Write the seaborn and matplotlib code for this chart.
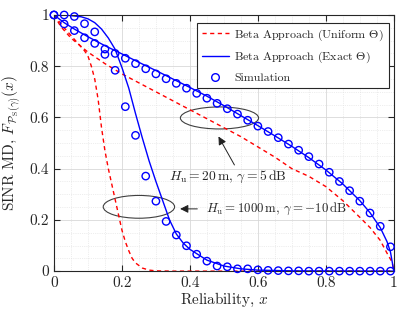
import matplotlib
matplotlib.use("Agg")
import matplotlib.pyplot as plt
import seaborn as sns
import pandas as pd
from matplotlib.patches import Ellipse
from matplotlib.lines import Line2D
from matplotlib.ticker import MultipleLocator

# simulation points (both scenarios share the same x grid)
x_sim = [0.00, 0.03, 0.06, 0.09, 0.12, 0.15, 0.18, 0.21, 0.24, 0.27, 0.30, 0.33,
         0.36, 0.39, 0.42, 0.45, 0.48, 0.51, 0.54, 0.57, 0.60, 0.63, 0.66, 0.69,
         0.72, 0.75, 0.78, 0.81, 0.84, 0.87, 0.90, 0.93, 0.96, 0.99]
sim_20 = [1.0, 0.965, 0.939, 0.911, 0.889, 0.867, 0.85, 0.831, 0.81, 0.79, 0.77, 0.751,
          0.733, 0.714, 0.694, 0.675, 0.655, 0.634, 0.613, 0.589, 0.566, 0.545, 0.521, 0.496,
          0.472, 0.447, 0.418, 0.386, 0.35, 0.314, 0.273, 0.227, 0.175, 0.095]
sim_1000 = [1.0, 1.0, 0.994, 0.966, 0.934, 0.846, 0.784, 0.642, 0.53, 0.371, 0.273, 0.194,
            0.141, 0.099, 0.066, 0.039, 0.02, 0.017, 0.009, 0.009, 0.005, 0.003, 0.002, 0.001,
            0.001, 0.0, 0.0, 0.0, 0.0, 0.0, 0.0, 0.0, 0.0, 0.0]

# Beta approach, exact Theta
x_ex20 = [0, 0.03, 0.06, 0.1, 0.15, 0.2, 0.25, 0.3, 0.35, 0.4, 0.45, 0.5, 0.55, 0.6,
          0.65, 0.7, 0.75, 0.8, 0.85, 0.9, 0.93, 0.96, 0.98, 0.99, 1.0]
y_ex20 = [1, 0.97, 0.945, 0.915, 0.88, 0.848, 0.815, 0.783, 0.75, 0.717, 0.683, 0.646,
          0.607, 0.568, 0.528, 0.487, 0.443, 0.395, 0.34, 0.275, 0.228, 0.17, 0.115, 0.075, 0.0]
x_ex1000 = [0, 0.04, 0.08, 0.1, 0.12, 0.14, 0.16, 0.18, 0.2, 0.22, 0.24, 0.26, 0.28, 0.3,
            0.32, 0.34, 0.36, 0.38, 0.4, 0.45, 0.5, 0.55, 0.6, 0.7, 1.0]
y_ex1000 = [1, 0.999, 0.993, 0.985, 0.97, 0.945, 0.91, 0.866, 0.795, 0.715, 0.615, 0.52,
            0.43, 0.35, 0.275, 0.2, 0.145, 0.11, 0.085, 0.043, 0.02, 0.009, 0.004, 0.001, 0.0]

# Beta approach, uniform Theta
x_un20 = [0, 0.02, 0.05, 0.1, 0.15, 0.2, 0.25, 0.3, 0.35, 0.4, 0.45, 0.5, 0.55, 0.6,
          0.65, 0.7, 0.75, 0.8, 0.85, 0.9, 0.93, 0.96, 0.98, 0.995, 1.0]
y_un20 = [1, 0.955, 0.91, 0.855, 0.81, 0.77, 0.735, 0.70, 0.665, 0.63, 0.595, 0.56,
          0.525, 0.485, 0.445, 0.40, 0.37, 0.33, 0.275, 0.21, 0.17, 0.12, 0.07, 0.035, 0.0]
x_un1000 = [0, 0.03, 0.06, 0.09, 0.1, 0.11, 0.12, 0.13, 0.14, 0.15, 0.16, 0.17, 0.18,
            0.19, 0.2, 0.21, 0.22, 0.23, 0.24, 0.26, 0.28, 0.3, 0.35, 1.0]
y_un1000 = [1, 0.95, 0.905, 0.86, 0.84, 0.8, 0.75, 0.67, 0.56, 0.47, 0.4, 0.34, 0.28,
            0.22, 0.16, 0.115, 0.08, 0.05, 0.032, 0.012, 0.004, 0.001, 0.0, 0.0]

sns.set_style("ticks")
plt.rcParams["font.family"] = "serif"
plt.rcParams["font.serif"] = ["cmr10", "DejaVu Serif"]
plt.rcParams["mathtext.fontset"] = "cm"
plt.rcParams["axes.formatter.use_mathtext"] = True

fig = plt.figure(figsize=(4.15, 3.12), dpi=100)
ax = fig.add_axes([0.130, 0.131, 0.819, 0.821])

for xs, ys in [(x_un20, y_un20), (x_un1000, y_un1000)]:
    sns.lineplot(x=xs, y=ys, ax=ax, color="red", linestyle=(0, (3, 2.5)), linewidth=1.0,
                 sort=False, estimator=None)
for xs, ys in [(x_ex20, y_ex20), (x_ex1000, y_ex1000)]:
    sns.lineplot(x=xs, y=ys, ax=ax, color="blue", linewidth=1.0, sort=False, estimator=None)

sim = pd.DataFrame({"x": x_sim + x_sim, "y": sim_20 + sim_1000})
sns.scatterplot(data=sim, x="x", y="y", ax=ax, marker="o", s=28, facecolors="none",
                edgecolor="blue", linewidth=1.0, zorder=5, clip_on=False)

ax.set_xlim(0, 1)
ax.set_ylim(0, 1)
ax.xaxis.set_minor_locator(MultipleLocator(0.05))
ax.yaxis.set_minor_locator(MultipleLocator(0.05))
ax.set_xticks([0, 0.2, 0.4, 0.6, 0.8, 1.0], ["0", "0.2", "0.4", "0.6", "0.8", "1"])
ax.set_yticks([0, 0.2, 0.4, 0.6, 0.8, 1.0], ["0", "0.2", "0.4", "0.6", "0.8", "1"])
ax.grid(which="major", color="#d8d8d8", linewidth=0.6)
ax.grid(which="minor", color="#dedede", linewidth=0.5, linestyle=":")
ax.set_axisbelow(True)
ax.tick_params(which="both", direction="in", top=True, right=True, labelsize=11)
ax.tick_params(which="minor", length=0)
ax.tick_params(which="major", length=4)
for s in ax.spines.values():
    s.set_linewidth(0.8)
    s.set_color("#262626")

ax.set_xlabel(r"Reliability, $x$", fontsize=11, labelpad=1)
ax.set_ylabel(r"SINR MD, $\bar{F}_{\mathcal{P}_{\rm S}(\gamma)}(x)$", fontsize=11, labelpad=5)

# annotations
ax.add_patch(Ellipse((0.487, 0.598), 0.23, 0.086, fill=False, edgecolor="#404040", linewidth=0.8))
ax.add_patch(Ellipse((0.25, 0.251), 0.21, 0.089, fill=False, edgecolor="#404040", linewidth=0.8))
ax.annotate("", xy=(0.48, 0.535), xytext=(0.535, 0.405),
            arrowprops=dict(arrowstyle="-|>", color="#202020", lw=0.7, mutation_scale=12))
ax.annotate("", xy=(0.363, 0.243), xytext=(0.43, 0.243),
            arrowprops=dict(arrowstyle="-|>", color="#202020", lw=0.7, mutation_scale=12))
ax.text(0.51, 0.368, r"$H_{\rm u}=20\,{\rm m},\,\gamma=5\,{\rm dB}$", ha="center", va="center",
        fontsize=9.8)
ax.text(0.448, 0.243, r"$H_{\rm u}=1000\,{\rm m},\,\gamma=-10\,{\rm dB}$", ha="left", va="center",
        fontsize=9.3)

handles = [
    Line2D([], [], color="red", linestyle=(0, (3, 2.5)), linewidth=1.0),
    Line2D([], [], color="blue", linewidth=1.0),
    Line2D([], [], color="blue", marker="o", markerfacecolor="none", linestyle="none",
           markersize=5.5),
]
labels = [r"Beta Approach (Uniform $\Theta$)", r"Beta Approach (Exact $\Theta$)", "Simulation"]
leg = ax.legend(handles, labels, loc="upper right", bbox_to_anchor=(0.985, 0.97), fontsize=8.6,
                frameon=True, fancybox=False, framealpha=1, edgecolor="#262626",
                borderpad=0.4, labelspacing=0.6, handlelength=2.3, handletextpad=0.45,
                borderaxespad=0)
leg.get_frame().set_linewidth(0.8)

fig.savefig("out.png", dpi=100)
